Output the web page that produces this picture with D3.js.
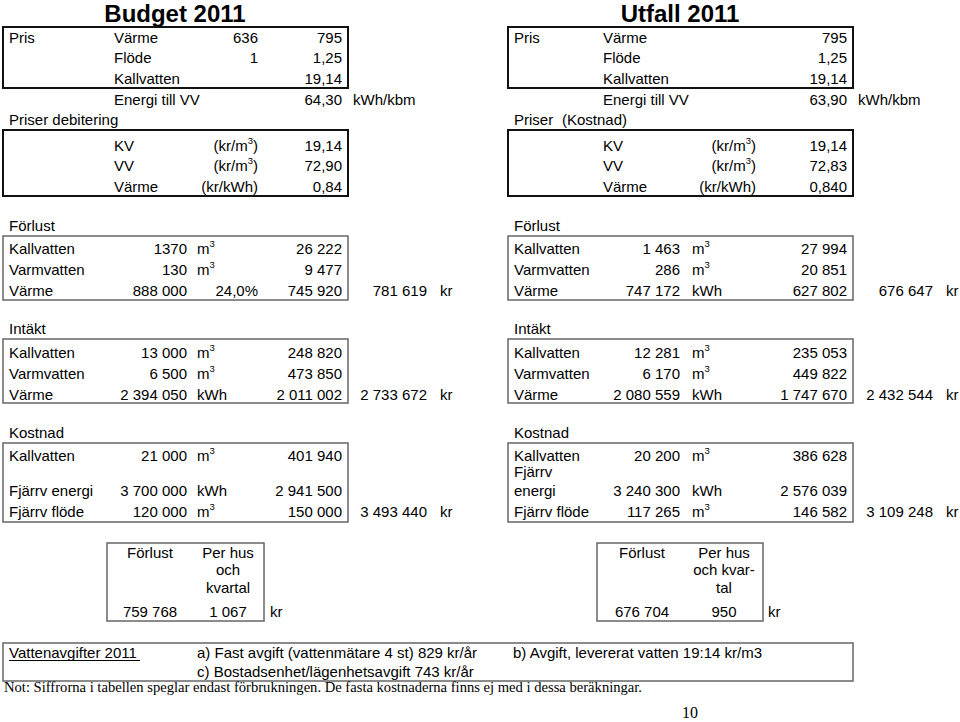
<!DOCTYPE html>
<html>
<head>
<meta charset="utf-8">
<script src="https://cdn.jsdelivr.net/npm/d3@7"></script>
<style>
body { margin: 0; background: #fff; }
svg text { font-family: "Liberation Sans", Arial, sans-serif; font-size: 15px; fill: #000; }
svg text.serif { font-family: "Liberation Serif", "Times New Roman", serif; }
</style>
</head>
<body>
<svg id="sheet" width="960" height="722"></svg>
<script>
// ---- data ----
const panelTitles = ["Budget 2011", "Utfall 2011"];

const prisItems = ["Värme", "Flöde", "Kallvatten"];
const budgetPrisOld = ["636", "1", ""];
const budgetPris = ["795", "1,25", "19,14"];
const utfallPris = ["795", "1,25", "19,14"];
const energiTillVV = ["64,30", "63,90"];
const energiUnit = "kWh/kbm";

const priserHeadings = [["Priser debitering"], ["Priser", "(Kostnad)"]];
const debItems = ["KV", "VV", "Värme"];
const debUnits = ["(kr/m^3)", "(kr/m^3)", "(kr/kWh)"];
const budgetDeb = ["19,14", "72,90", "0,84"];
const utfallDeb = ["19,14", "72,83", "0,840"];

const sectionNames = ["Förlust", "Intäkt", "Kostnad"];

const lossItems = ["Kallvatten", "Varmvatten", "Värme"];
const budgetLossQty = ["1370", "130", "888 000"];
const budgetLossUnit = ["m^3", "m^3", ""];
const budgetLossPct = ["", "", "24,0%"];
const budgetLossKr = ["26 222", "9 477", "745 920"];
const budgetLossTotal = "781 619";
const utfallLossQty = ["1 463", "286", "747 172"];
const utfallLossUnit = ["m^3", "m^3", "kWh"];
const utfallLossKr = ["27 994", "20 851", "627 802"];
const utfallLossTotal = "676 647";

const incomeItems = ["Kallvatten", "Varmvatten", "Värme"];
const incomeUnit = ["m^3", "m^3", "kWh"];
const budgetIncomeQty = ["13 000", "6 500", "2 394 050"];
const budgetIncomeKr = ["248 820", "473 850", "2 011 002"];
const budgetIncomeTotal = "2 733 672";
const utfallIncomeQty = ["12 281", "6 170", "2 080 559"];
const utfallIncomeKr = ["235 053", "449 822", "1 747 670"];
const utfallIncomeTotal = "2 432 544";

const budgetCostItems = ["Kallvatten", "Fjärrv energi", "Fjärrv flöde"];
const utfallCostItems = ["Kallvatten", "Fjärrv\nenergi", "Fjärrv flöde"];
const costUnit = ["m^3", "kWh", "m^3"];
const budgetCostQty = ["21 000", "3 700 000", "120 000"];
const budgetCostKr = ["401 940", "2 941 500", "150 000"];
const budgetCostTotal = "3 493 440";
const utfallCostQty = ["20 200", "3 240 300", "117 265"];
const utfallCostKr = ["386 628", "2 576 039", "146 582"];
const utfallCostTotal = "3 109 248";

const summaryHeads = [["Förlust", "Per hus\noch\nkvartal"], ["Förlust", "Per hus\noch kvar-\ntal"]];
const summaryLoss = ["759 768", "676 704"];
const summaryPerHouse = ["1 067", "950"];
const currency = "kr";

const feeTitle = "Vattenavgifter 2011";
const feeLines = ["a) Fast avgift (vattenmätare 4 st) 829 kr/år", "c) Bostadsenhet/lägenhetsavgift 743 kr/år", "b) Avgift, levererat vatten 19:14 kr/m3"];
const noteText = "Not: Siffrorna i tabellen speglar endast förbrukningen. De fasta kostnaderna finns ej med i dessa beräkningar.";
const pageNumber = "10";

// ---- layout ----
const svg = d3.select("#sheet");
const LINE = 21;

// text helper, "^" marks a superscript digit
function txt(g, x, y, s, anchor = "start") {
	const t = g.append("text").attr("x", x).attr("y", y).attr("text-anchor", anchor);
	const parts = s.split("^");
	if (parts.length === 1) {
		t.text(s);
	} else {
		t.append("tspan").text(parts[0]);
		t.append("tspan").attr("dy", -7).style("font-size", "9.5px").text(parts[1][0]);
		if (parts[1].length > 1) t.append("tspan").attr("dy", 7).text(parts[1].slice(1));
	}
	return t;
}

function box(g, x0, x1, y0, y1, color, w) {
	g.append("rect")
		.attr("x", x0).attr("y", y0)
		.attr("width", x1 - x0).attr("height", y1 - y0)
		.attr("fill", "none")
		.attr("stroke", color)
		.attr("stroke-width", w);
}

const panels = [
	{
		title: panelTitles[0], cx: 175,
		cols: { label: 9, sub: 114, c3: 258, c4: 342, unit: 353, qty: 187, u: 197, pct: 258, val: 342, tot: 427, kr: 440, x0: 3, x1: 348 },
		pris3: budgetPrisOld, pris4: budgetPris, energi: energiTillVV[0], priser: priserHeadings[0], deb: budgetDeb,
		loss: { items: lossItems, qty: budgetLossQty, unit: budgetLossUnit, pct: budgetLossPct, kr: budgetLossKr, total: budgetLossTotal },
		income: { items: incomeItems, qty: budgetIncomeQty, unit: incomeUnit, kr: budgetIncomeKr, total: budgetIncomeTotal },
		cost: { items: budgetCostItems, qty: budgetCostQty, unit: costUnit, kr: budgetCostKr, total: budgetCostTotal },
		sum: { x0: 107, x1: 264, c1: 150, c2: 228, kr: 270, heads: summaryHeads[0], loss: summaryLoss[0], per: summaryPerHouse[0] }
	},
	{
		title: panelTitles[1], cx: 680,
		cols: { label: 514, sub: 603, c3: 756, c4: 847, unit: 858, qty: 680, u: 692, pct: 756, val: 847, tot: 933, kr: 946, x0: 508, x1: 853 },
		pris3: ["", "", ""], pris4: utfallPris, energi: energiTillVV[1], priser: priserHeadings[1], deb: utfallDeb,
		loss: { items: lossItems, qty: utfallLossQty, unit: utfallLossUnit, pct: null, kr: utfallLossKr, total: utfallLossTotal },
		income: { items: incomeItems, qty: utfallIncomeQty, unit: incomeUnit, kr: utfallIncomeKr, total: utfallIncomeTotal },
		cost: { items: utfallCostItems, qty: utfallCostQty, unit: costUnit, kr: utfallCostKr, total: utfallCostTotal },
		sum: { x0: 597, x1: 763, c1: 642, c2: 724, kr: 768, heads: summaryHeads[1], loss: summaryLoss[1], per: summaryPerHouse[1] }
	}
];

// section geometry: heading baseline, box top/bottom, first row baseline, row positions (in lines)
const sections = [
	{ key: "loss", name: sectionNames[0], head: 230.5, y0: 236, y1: 300, first: 254, pos: [0, 1, 2] },
	{ key: "income", name: sectionNames[1], head: 333.5, y0: 339, y1: 403, first: 357.5, pos: [0, 1, 2] },
	{ key: "cost", name: sectionNames[2], head: 437.5, y0: 443, y1: 522, first: 460.5, pos: [0, 1.67, 2.67] }
];

panels.forEach(p => {
	const g = svg.append("g");
	const c = p.cols;

	g.append("text")
		.attr("x", p.cx).attr("y", 22)
		.attr("text-anchor", "middle")
		.style("font-size", "24px")
		.style("font-weight", "bold")
		.text(p.title);

	// Pris block
	const yPris = d3.scaleLinear().domain([0, 1]).range([42.5, 42.5 + 20.5]);
	box(g, c.x0, c.x1, 27, 88, "#111", 2);
	txt(g, c.label, yPris(0), "Pris");
	prisItems.forEach((d, i) => {
		txt(g, c.sub, yPris(i), d);
		if (p.pris3[i]) txt(g, c.c3, yPris(i), p.pris3[i], "end");
		txt(g, c.c4, yPris(i), p.pris4[i], "end");
	});
	txt(g, c.sub, 105, "Energi till VV");
	txt(g, c.c4, 105, p.energi, "end");
	txt(g, c.unit, 105, energiUnit);
	txt(g, c.label, 125, p.priser[0]);
	if (p.priser[1]) txt(g, c.label + 48, 125, p.priser[1]);

	// debitering block
	const yDeb = d3.scaleLinear().domain([0, 1]).range([150.5, 150.5 + 20.5]);
	box(g, c.x0, c.x1, 130, 196, "#111", 2);
	debItems.forEach((d, i) => {
		txt(g, c.sub, yDeb(i), d);
		txt(g, c.c3, yDeb(i), debUnits[i], "end");
		txt(g, c.c4, yDeb(i), p.deb[i], "end");
	});

	// Förlust / Intäkt / Kostnad
	sections.forEach(s => {
		const d = p[s.key];
		const y = d3.scaleLinear().domain([0, 1]).range([s.first, s.first + LINE]);
		txt(g, c.label, s.head, s.name);
		box(g, c.x0, c.x1, s.y0, s.y1, "#666", 1.5);
		d.items.forEach((item, i) => {
			const yy = y(s.pos[i]);
			const lines = item.split("\n");
			lines.forEach((l, k) => txt(g, c.label, yy - (lines.length - 1 - k) * 18.5, l));
			txt(g, c.qty, yy, d.qty[i], "end");
			if (d.unit[i]) txt(g, c.u, yy, d.unit[i]);
			if (d.pct && d.pct[i]) txt(g, c.pct, yy, d.pct[i], "end");
			txt(g, c.val, yy, d.kr[i], "end");
		});
		const yLast = y(s.pos[s.pos.length - 1]);
		txt(g, c.tot, yLast, d.total, "end");
		txt(g, c.kr, yLast, currency);
	});

	// summary box
	const sm = p.sum;
	box(g, sm.x0, sm.x1, 543, 621, "#666", 1.5);
	const ySum = d3.scaleLinear().domain([0, 1]).range([557.5, 557.5 + 17.8]);
	sm.heads.forEach((h, j) => {
		h.split("\n").forEach((l, k) => txt(g, j === 0 ? sm.c1 : sm.c2, ySum(k), l, "middle"));
	});
	txt(g, sm.c1, 617, sm.loss, "middle");
	txt(g, sm.c2, 617, sm.per, "middle");
	txt(g, sm.kr, 617, currency);
});

// fee box
const fg = svg.append("g");
box(fg, 3, 853, 643, 681, "#666", 1.5);
txt(fg, 9, 657.5, feeTitle);
fg.append("line")
	.attr("x1", 9).attr("x2", 140)
	.attr("y1", 660.5).attr("y2", 660.5)
	.attr("stroke", "#000").attr("stroke-width", 1);
txt(fg, 197, 657.5, feeLines[0]);
txt(fg, 197, 676.5, feeLines[1]);
txt(fg, 513, 657.5, feeLines[2]);

fg.append("text").attr("class", "serif")
	.attr("x", 4).attr("y", 692)
	.style("font-size", "14.6px")
	.text(noteText);

fg.append("text").attr("class", "serif")
	.attr("x", 690).attr("y", 718)
	.attr("text-anchor", "middle")
	.style("font-size", "16px")
	.text(pageNumber);
</script>
</body>
</html>
